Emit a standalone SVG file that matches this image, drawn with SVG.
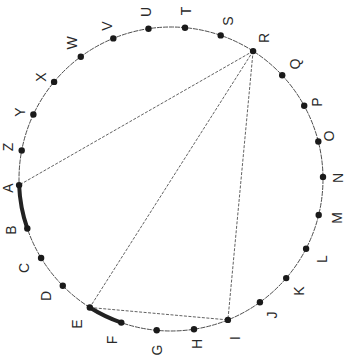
<svg xmlns="http://www.w3.org/2000/svg" width="350" height="360" viewBox="0 0 350 360">
<style>
.bg{fill:#ffffff}
.ring{fill:none;stroke:#3a3a3a;stroke-width:0.9;stroke-dasharray:5 1}
.chord{fill:none;stroke:#3a3a3a;stroke-width:0.8;stroke-dasharray:3 1.5}
.thick{fill:none;stroke:#222;stroke-width:4;stroke-linecap:round}
.dot{fill:#1a1a1a}
.lbl{font-family:"Liberation Sans",Arial,sans-serif;font-size:14px;fill:#2a2a2a;text-anchor:middle;dominant-baseline:central}
</style>
<rect class="bg" x="0" y="0" width="350" height="360"/>
<circle class="ring" cx="171" cy="179" r="152"/>
<g id="connectors">
<line class="chord" x1="253.1" y1="51.1" x2="19.1" y2="185.1"/>
<line class="chord" x1="253.1" y1="51.1" x2="89.8" y2="307.5"/>
<line class="chord" x1="253.1" y1="51.1" x2="227.9" y2="319.9"/>
<line class="chord" x1="89.8" y1="307.5" x2="227.9" y2="319.9"/>
<path class="thick" d="M19.1,185.1 A152,152 0 0 0 27.3,228.5"/>
<path class="thick" d="M89.8,307.5 A152,152 0 0 0 121.3,322.6"/>
</g>
<g id="A"><circle class="dot" cx="19.1" cy="185.1" r="3.2"/><text class="lbl" x="8" y="188" transform="rotate(-90 8 188)">A</text></g>
<g id="B"><circle class="dot" cx="27.3" cy="228.5" r="3.2"/><text class="lbl" x="11" y="230" transform="rotate(-90 11 230)">B</text></g>
<g id="C"><circle class="dot" cx="41.1" cy="258" r="3.2"/><text class="lbl" x="24" y="268" transform="rotate(-90 24 268)">C</text></g>
<g id="D"><circle class="dot" cx="62.8" cy="285.7" r="3.2"/><text class="lbl" x="46" y="296" transform="rotate(-90 46 296)">D</text></g>
<g id="E"><circle class="dot" cx="89.8" cy="307.5" r="3.2"/><text class="lbl" x="77" y="324" transform="rotate(-90 77 324)">E</text></g>
<g id="F"><circle class="dot" cx="121.3" cy="322.6" r="3.2"/><text class="lbl" x="112" y="340" transform="rotate(-90 112 340)">F</text></g>
<g id="G"><circle class="dot" cx="156.7" cy="330.3" r="3.2"/><text class="lbl" x="157" y="350" transform="rotate(-90 157 350)">G</text></g>
<g id="H"><circle class="dot" cx="194" cy="329.3" r="3.2"/><text class="lbl" x="197" y="344" transform="rotate(-90 197 344)">H</text></g>
<g id="I"><circle class="dot" cx="227.9" cy="319.9" r="3.2"/><text class="lbl" x="235" y="338" transform="rotate(-90 235 338)">I</text></g>
<g id="J"><circle class="dot" cx="259.9" cy="302.3" r="3.2"/><text class="lbl" x="272" y="315" transform="rotate(-90 272 315)">J</text></g>
<g id="K"><circle class="dot" cx="286.2" cy="278.1" r="3.2"/><text class="lbl" x="299" y="291" transform="rotate(-90 299 291)">K</text></g>
<g id="L"><circle class="dot" cx="306.1" cy="248.7" r="3.2"/><text class="lbl" x="322" y="259" transform="rotate(-90 322 259)">L</text></g>
<g id="M"><circle class="dot" cx="318.7" cy="215" r="3.2"/><text class="lbl" x="337" y="218" transform="rotate(-90 337 218)">M</text></g>
<g id="N"><circle class="dot" cx="323" cy="176.9" r="3.2"/><text class="lbl" x="338" y="178" transform="rotate(-90 338 178)">N</text></g>
<g id="O"><circle class="dot" cx="318.3" cy="141.5" r="3.2"/><text class="lbl" x="329" y="136" transform="rotate(-90 329 136)">O</text></g>
<g id="P"><circle class="dot" cx="304.2" cy="105.8" r="3.2"/><text class="lbl" x="317" y="102" transform="rotate(-90 317 102)">P</text></g>
<g id="Q"><circle class="dot" cx="282.2" cy="75.3" r="3.2"/><text class="lbl" x="295" y="64" transform="rotate(-90 295 64)">Q</text></g>
<g id="R"><circle class="dot" cx="253.1" cy="51.1" r="3.2"/><text class="lbl" x="264" y="38" transform="rotate(-90 264 38)">R</text></g>
<g id="S"><circle class="dot" cx="220.7" cy="35.4" r="3.2"/><text class="lbl" x="228" y="21" transform="rotate(-90 228 21)">S</text></g>
<g id="T"><circle class="dot" cx="185" cy="27.7" r="3.2"/><text class="lbl" x="186" y="11" transform="rotate(-90 186 11)">T</text></g>
<g id="U"><circle class="dot" cx="148.5" cy="28.7" r="3.2"/><text class="lbl" x="146" y="12" transform="rotate(-90 146 12)">U</text></g>
<g id="V"><circle class="dot" cx="113.3" cy="38.4" r="3.2"/><text class="lbl" x="107" y="26" transform="rotate(-90 107 26)">V</text></g>
<g id="W"><circle class="dot" cx="80.8" cy="56.7" r="3.2"/><text class="lbl" x="72" y="43" transform="rotate(-90 72 43)">W</text></g>
<g id="X"><circle class="dot" cx="54.1" cy="81.9" r="3.2"/><text class="lbl" x="41" y="77" transform="rotate(-90 41 77)">X</text></g>
<g id="Y"><circle class="dot" cx="33.4" cy="114.5" r="3.2"/><text class="lbl" x="20" y="112" transform="rotate(-90 20 112)">Y</text></g>
<g id="Z"><circle class="dot" cx="21.7" cy="150.5" r="3.2"/><text class="lbl" x="8" y="147" transform="rotate(-90 8 147)">Z</text></g>
</svg>
